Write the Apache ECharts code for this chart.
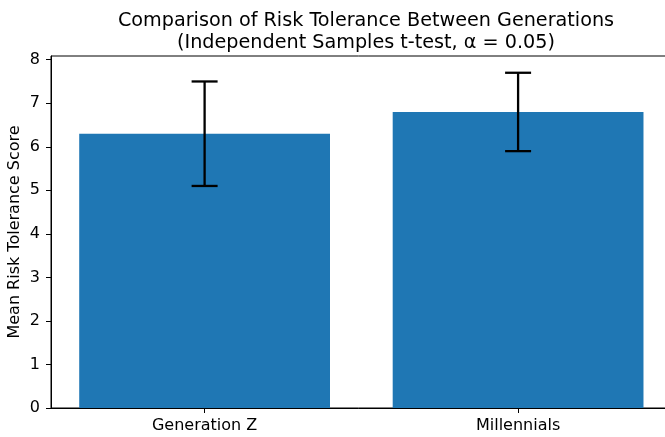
<!DOCTYPE html>
<html>
<head>
<meta charset="utf-8">
<script src="https://cdn.jsdelivr.net/npm/echarts@6/dist/echarts.min.js"></script>
<style>
  html, body { margin: 0; padding: 0; background: #fff; }
  #chart { width: 665px; height: 437px; }
</style>
</head>
<body>
<div id="chart"></div>
<script>
// Group means and standard deviations
const groups = ['Generation Z', 'Millennials'];
const means = [6.3, 6.8];
const errors = [1.2, 0.9];
const yTicks = [0, 1, 2, 3, 4, 5, 6, 7, 8];

const FONT = 'DejaVu Sans';
const barData = means.map((m, i) => [i, m]);
const errData = means.map((m, i) => [i, m - errors[i], m + errors[i]]);
const yMax = Math.max(...errData.map(d => d[2])) * 1.05;

const chart = echarts.init(document.getElementById('chart'), null, { renderer: 'canvas' });
chart.setOption({
  animation: false,
  backgroundColor: '#ffffff',
  textStyle: { fontFamily: FONT },
  title: {
    text: 'Comparison of Risk Tolerance Between Generations\n(Independent Samples t-test, α = 0.05)',
    left: 361,
    textAlign: 'center',
    top: 5,
    textStyle: { fontFamily: FONT, fontSize: 19.2, fontWeight: 'normal', color: '#000', lineHeight: 22 }
  },
  grid: {
    left: 51, top: 56, width: 620.7, height: 352,
    containLabel: false,
    outerBoundsMode: 'none',
    show: true, borderColor: '#000', borderWidth: 1, backgroundColor: 'transparent'
  },
  xAxis: {
    type: 'value', min: -0.49, max: 1.49,
    splitLine: { show: false },
    axisLine: { show: true, onZero: false, lineStyle: { color: '#000', width: 1 } },
    axisTick: { show: true, customValues: [0, 1], length: 5, lineStyle: { color: '#000' } },
    axisLabel: {
      customValues: [0, 1],
      formatter: v => groups[Math.round(v)] || '',
      fontFamily: FONT, fontSize: 16, color: '#000', margin: 10
    }
  },
  yAxis: {
    type: 'value', min: 0, max: yMax,
    name: 'Mean Risk Tolerance Score',
    nameLocation: 'middle', nameGap: 28, nameRotate: 90,
    nameMoveOverlap: false,
    nameTextStyle: { fontFamily: FONT, fontSize: 16, color: '#000' },
    splitLine: { show: false },
    axisLine: { show: true, onZero: false, lineStyle: { color: '#000', width: 1 } },
    axisTick: { show: true, customValues: yTicks, length: 5, lineStyle: { color: '#000' } },
    axisLabel: { customValues: yTicks, fontFamily: FONT, fontSize: 16, color: '#000', margin: 11 }
  },
  series: [
    {
      // bars, 0.8 category units wide
      type: 'custom',
      data: barData,
      z: 2,
      renderItem: (params, api) => {
        const x = api.value(0);
        const top = api.coord([x, api.value(1)]);
        const base = api.coord([x, 0]);
        const w = api.size([0.8, 0])[0];
        return {
          type: 'rect',
          shape: { x: top[0] - w / 2, y: top[1], width: w, height: base[1] - top[1] },
          style: { fill: '#1f77b4' }
        };
      }
    },
    {
      // error bars with caps
      type: 'custom',
      data: errData,
      z: 3,
      renderItem: (params, api) => {
        const x = api.value(0);
        const lo = api.coord([x, api.value(1)]);
        const hi = api.coord([x, api.value(2)]);
        const cap = 13;
        const style = { stroke: '#000', lineWidth: 2.3 };
        return {
          type: 'group',
          children: [
            { type: 'line', shape: { x1: lo[0], y1: lo[1], x2: hi[0], y2: hi[1] }, style },
            { type: 'line', shape: { x1: hi[0] - cap, y1: hi[1], x2: hi[0] + cap, y2: hi[1] }, style },
            { type: 'line', shape: { x1: lo[0] - cap, y1: lo[1], x2: lo[0] + cap, y2: lo[1] }, style }
          ]
        };
      }
    }
  ]
});
</script>
</body>
</html>
